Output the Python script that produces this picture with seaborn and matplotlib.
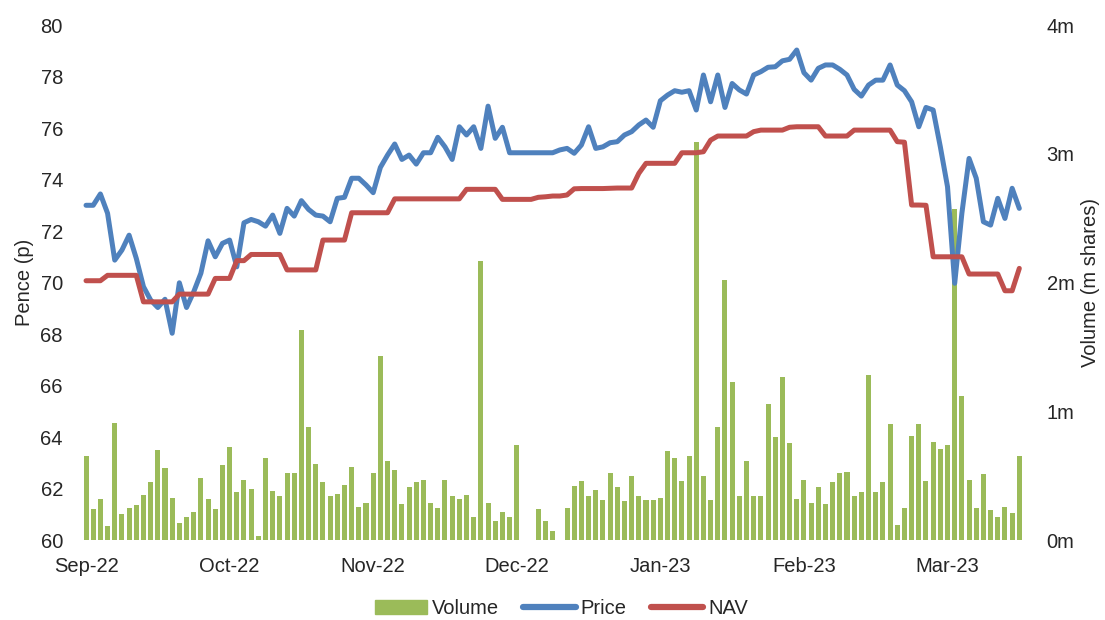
import matplotlib
matplotlib.use("Agg")
import matplotlib.pyplot as plt
import numpy as np
import pandas as pd
import seaborn as sns
from matplotlib.lines import Line2D
from matplotlib.patches import Patch

sns.set_theme(style="white")
plt.rcParams["font.family"] = ["Liberation Sans", "DejaVu Sans"]

# daily series, Sep-22 .. mid Mar-23 (one entry per trading day)
price = [
    73.0, 73.0, 73.44, 72.69, 70.87, 71.26, 71.84, 70.94, 69.84, 69.32,
    69.03, 69.35, 68.03, 69.99, 69.03, 69.64, 70.36, 71.62, 71.0, 71.52,
    71.65, 70.61, 72.32, 72.45, 72.36, 72.19, 72.62, 71.91, 72.88, 72.58,
    73.18, 72.84, 72.62, 72.58, 72.36, 73.27, 73.31, 74.05, 74.05, 73.79,
    73.49, 74.47, 74.95, 75.38, 74.78, 74.95, 74.60, 75.04, 75.04, 75.64,
    75.27, 74.78, 76.05, 75.73, 76.05, 75.21, 76.85, 75.60, 76.03, 75.04,
    75.04, 75.04, 75.04, 75.04, 75.04, 75.04, 75.15, 75.21, 75.02, 75.34,
    76.05, 75.21, 75.27, 75.43, 75.47, 75.73, 75.86, 76.12, 76.31, 76.03,
    77.06, 77.28, 77.45, 77.39, 77.45, 76.70, 78.06, 77.02, 78.06, 76.80,
    77.73, 77.48, 77.32, 78.06, 78.19, 78.36, 78.38, 78.61, 78.67, 79.03,
    78.15, 77.86, 78.32, 78.45, 78.45, 78.28, 78.06, 77.50, 77.24, 77.67,
    77.86, 77.86, 78.45, 77.67, 77.45, 77.02, 76.05, 76.80, 76.70, 75.27,
    73.72, 69.97, 72.69, 74.82, 74.05, 72.36, 72.23, 73.27, 72.49, 73.66,
    72.88,
]

nav = [
    70.07, 70.07, 70.07, 70.28, 70.28, 70.28, 70.28, 70.28, 69.25, 69.25,
    69.25, 69.25, 69.25, 69.55, 69.55, 69.55, 69.55, 69.55, 70.16, 70.16,
    70.16, 70.85, 70.85, 71.09, 71.09, 71.09, 71.09, 71.09, 70.49, 70.49,
    70.49, 70.49, 70.49, 71.65, 71.65, 71.65, 71.65, 72.71, 72.71, 72.71,
    72.71, 72.71, 72.71, 73.25, 73.25, 73.25, 73.25, 73.25, 73.25, 73.25,
    73.25, 73.25, 73.25, 73.62, 73.62, 73.62, 73.62, 73.62, 73.23, 73.23,
    73.23, 73.23, 73.23, 73.31, 73.33, 73.36, 73.36, 73.40, 73.64, 73.65,
    73.65, 73.65, 73.65, 73.66, 73.67, 73.67, 73.67, 74.24, 74.63, 74.63,
    74.63, 74.63, 74.63, 75.04, 75.04, 75.04, 75.08, 75.53, 75.69, 75.69,
    75.69, 75.69, 75.69, 75.86, 75.92, 75.92, 75.92, 75.92, 76.03, 76.05,
    76.05, 76.05, 76.05, 75.69, 75.69, 75.69, 75.69, 75.92, 75.92, 75.92,
    75.92, 75.92, 75.92, 75.47, 75.45, 73.01, 73.01, 73.00, 71.00, 71.00,
    71.00, 71.00, 71.00, 70.33, 70.33, 70.33, 70.33, 70.33, 69.68, 69.68,
    70.55,
]

# volume in millions of shares (nan = no trades recorded)
volume = [
    0.65, 0.24, 0.32, 0.11, 0.91, 0.20, 0.25, 0.27, 0.35, 0.45,
    0.70, 0.56, 0.33, 0.13, 0.18, 0.22, 0.48, 0.32, 0.24, 0.58,
    0.72, 0.37, 0.47, 0.40, 0.03, 0.64, 0.38, 0.34, 0.52, 0.52,
    1.63, 0.88, 0.59, 0.45, 0.34, 0.36, 0.43, 0.57, 0.26, 0.29,
    0.52, 1.43, 0.61, 0.54, 0.28, 0.41, 0.45, 0.47, 0.29, 0.25,
    0.47, 0.34, 0.32, 0.35, 0.18, 2.17, 0.29, 0.15, 0.22, 0.18,
    0.74, np.nan, np.nan, 0.24, 0.15, 0.07, np.nan, 0.25, 0.42, 0.46,
    0.34, 0.39, 0.31, 0.52, 0.41, 0.30, 0.50, 0.34, 0.31, 0.31,
    0.33, 0.69, 0.64, 0.46, 0.65, 3.09, 0.50, 0.31, 0.88, 2.02,
    1.23, 0.34, 0.61, 0.34, 0.34, 1.06, 0.80, 1.27, 0.75, 0.32,
    0.47, 0.29, 0.41, 0.28, 0.45, 0.52, 0.53, 0.34, 0.37, 1.28,
    0.37, 0.45, 0.90, 0.12, 0.25, 0.81, 0.90, 0.46, 0.76, 0.71,
    0.74, 2.57, 1.12, 0.47, 0.25, 0.51, 0.23, 0.18, 0.26, 0.21,
    0.65,
]

month_labels = ["Sep-22", "Oct-22", "Nov-22", "Dec-22", "Jan-23", "Feb-23", "Mar-23"]
label_step = 20  # a date label every 20 trading days

df = pd.DataFrame({"day": np.arange(len(price)), "Price": price, "NAV": nav, "Volume": volume})

BLUE = "#4F81BD"
RED = "#C0504D"
GREEN = "#9BBB59"
FS = 14.5

fig = plt.figure(figsize=(11.05, 6.2), dpi=100)
ax = fig.add_axes([0.0746, 0.129, 0.8511, 0.8306])
ax2 = ax.twinx()

# volume bars on the secondary axis, kept behind the lines
sns.barplot(data=df, x="day", y="Volume", ax=ax2, color=GREEN, width=0.7,
            saturation=1, native_scale=True, errorbar=None, linewidth=0)
sns.lineplot(data=df, x="day", y="Price", ax=ax, color=BLUE, lw=3.6,
             solid_joinstyle="round", solid_capstyle="round")
sns.lineplot(data=df, x="day", y="NAV", ax=ax, color=RED, lw=3.6,
             solid_joinstyle="round", solid_capstyle="round")

ax.set_zorder(ax2.get_zorder() + 1)
ax.patch.set_visible(False)

ax.set_xlim(-0.5, len(price) - 0.5)
ax2.set_xlim(-0.5, len(price) - 0.5)
ax.set_ylim(60, 80)
ax.set_yticks(np.arange(60, 81, 2))
ax2.set_ylim(0, 4)
ax2.set_yticks(np.arange(0, 5, 1))
ax2.set_yticklabels([f"{v}m" for v in range(5)])

ticks = np.arange(len(month_labels)) * label_step
ax.set_xticks(ticks)
ax.set_xticklabels(month_labels)

ax.set_xlabel("")
ax.set_ylabel("Pence (p)", fontsize=FS)
ax2.set_xlabel("")
ax2.set_ylabel("Volume (m shares)", fontsize=FS, rotation=90)

ax.tick_params(axis="y", length=0, pad=14, labelsize=FS)
ax.tick_params(axis="x", length=0, pad=12, labelsize=FS)
ax2.tick_params(axis="y", length=0, pad=17, labelsize=FS)
ax.yaxis.set_label_coords(-0.052, 0.5)
ax2.yaxis.set_label_coords(1.062, 0.5)

for a in (ax, ax2):
    for s in a.spines.values():
        s.set_visible(False)
    a.grid(False)

handles = [Patch(color=GREEN), Line2D([], [], color=BLUE, lw=4.5),
           Line2D([], [], color=RED, lw=4.5)]
fig.legend(handles, ["Volume", "Price", "NAV"], loc="center",
           bbox_to_anchor=(0.508, 0.018), ncol=3, frameon=False, fontsize=FS,
           handlelength=2.6, handletextpad=0.25, columnspacing=1.2,
           borderpad=0, borderaxespad=0)

fig.savefig("out.png", dpi=100)
